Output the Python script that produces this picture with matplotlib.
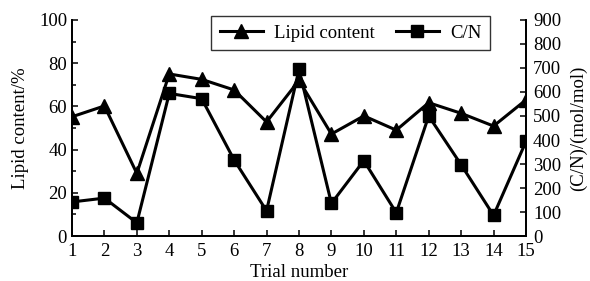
import numpy as np
import matplotlib.pyplot as plt
from matplotlib.ticker import MultipleLocator

plt.rcParams['font.family'] = ['Liberation Serif', 'DejaVu Serif']

trials = list(range(1, 16))
lipid = [55.2, 60.2, 29.0, 75.0, 72.5, 67.6, 52.8, 72.0, 47.2, 55.6, 49.0, 61.7, 56.8, 50.9, 63.0]
cn = [142, 158, 55, 594, 572, 317, 105, 694, 136, 314, 97, 500, 297, 86, 394]

fs = 13.5

fig = plt.figure(figsize=(5.9, 2.81), dpi=100)
ax = fig.add_axes([0.122, 0.160, 0.7695, 0.769])
ax2 = ax.twinx()

l1, = ax.plot(trials, lipid, color='black', lw=2.2, marker='^', ms=10.5, label='Lipid content')
l2, = ax2.plot(trials, cn, color='black', lw=2.2, marker='s', ms=8.5, label='C/N')

ax.set_xlim(1, 15)
ax.set_ylim(0, 100)
ax2.set_ylim(0, 900)
ax.set_xticks(trials)
ax.yaxis.set_major_locator(MultipleLocator(20))
ax.yaxis.set_minor_locator(MultipleLocator(10))
ax2.yaxis.set_major_locator(MultipleLocator(100))

for a in (ax, ax2):
    a.spines['top'].set_visible(False)
    for s in a.spines.values():
        s.set_linewidth(1.3)
    a.tick_params(direction='in', labelsize=fs, width=1.1, length=4)
    a.tick_params(which='minor', direction='in', width=1.1, length=3)
ax.tick_params(axis='x', pad=5)
ax2.tick_params(axis='y', pad=5)

ax.set_xlabel('Trial number', fontsize=fs, labelpad=3)
ax.set_ylabel('Lipid content/%', fontsize=fs, labelpad=7)
ax2.set_ylabel('(C/N)/(mol/mol)', fontsize=fs, labelpad=6)

leg = ax.legend(handles=[l1, l2], loc='upper left', bbox_to_anchor=(0.307, 1.016), ncol=2,
                fontsize=fs, frameon=True, fancybox=False, edgecolor='black',
                borderaxespad=0, handlelength=2.3, columnspacing=1.1,
                borderpad=0.45, handletextpad=0.6)
leg.get_frame().set_linewidth(1.0)

fig.savefig('out.png', dpi=100)
